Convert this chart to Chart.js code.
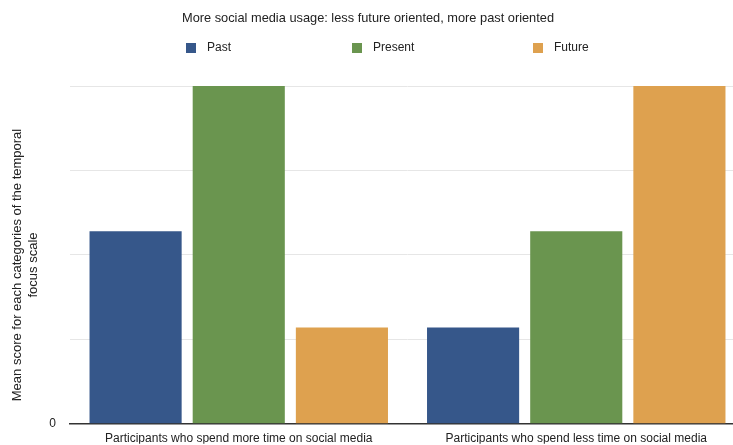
<!DOCTYPE html>
<html><head><meta charset="utf-8">
<script src="https://cdn.jsdelivr.net/npm/chart.js@4.4.0/dist/chart.umd.min.js"></script>
<style>html,body{margin:0;padding:0;background:#fff;overflow:hidden}#wrap{width:745px;height:445px;position:relative}</style>
</head><body><div id="wrap"><canvas id="c"></canvas></div>
<script>
const categories = ["Participants who spend more time on social media", "Participants who spend less time on social media"];
const seriesNames = ["Past", "Present", "Future"];
const pastValues = [2.28, 1.14];
const presentValues = [4, 2.28];
const futureValues = [1.14, 4];
const yTickLabels = {0: "0"};
const titleText = "More social media usage: less future oriented, more past oriented";
const yAxisTitle = ["Mean score for each categories of the temporal", "focus scale"];
const colors = ["#36578a", "#6a954f", "#dea14f"];

const FONT = '"Liberation Sans", Arial, sans-serif';
const headerPlugin = {
  id: 'header',
  afterDraw(chart) {
    const ctx = chart.ctx;
    ctx.save();
    ctx.textBaseline = 'middle';
    ctx.textAlign = 'center';
    ctx.fillStyle = '#222';
    ctx.font = '12.8px ' + FONT;
    ctx.fillText(titleText, 368, 18);
    ctx.textAlign = 'left';
    ctx.font = '12px ' + FONT;
    const starts = [186, 352, 533];
    chart.data.datasets.forEach((ds, i) => {
      ctx.fillStyle = ds.backgroundColor;
      ctx.fillRect(starts[i], 43, 10, 10);
      ctx.fillStyle = '#222';
      ctx.fillText(ds.label, starts[i] + 21, 48);
    });
    // y axis title
    ctx.translate(25, 265);
    ctx.rotate(-Math.PI / 2);
    ctx.textAlign = 'center';
    ctx.font = '13px ' + FONT;
    ctx.fillText(yAxisTitle[0], 0, -8);
    ctx.fillText(yAxisTitle[1], 0, 8);
    ctx.restore();
  }
};

const seriesValues = [pastValues, presentValues, futureValues];
new Chart(document.getElementById('c'), {
  type: 'bar',
  data: {
    labels: categories,
    datasets: seriesNames.map((n, i) => ({
      label: n, data: seriesValues[i], backgroundColor: colors[i],
      categoryPercentage: 0.917, barPercentage: 0.893
    }))
  },
  plugins: [headerPlugin],
  options: {
    responsive: true, maintainAspectRatio: false, animation: false,
    layout: {padding: {top: 86, right: 0, left: 0, bottom: 0}},
    plugins: {legend: {display: false}, title: {display: false}, tooltip: {enabled: false}},
    scales: {
      x: {
        grid: {display: false, drawTicks: false},
        border: {display: true, color: '#333', width: 1.5},
        ticks: {color: '#222', font: {size: 12, family: FONT}, padding: 8, maxRotation: 0},
        afterFit(s) { s.height = 20; }
      },
      y: {
        min: 0, max: 4,
        ticks: {stepSize: 1, callback: v => (yTickLabels[v] !== undefined ? yTickLabels[v] : ''), color: '#222', font: {size: 12, family: FONT}, padding: 14},
        grid: {color: '#e6e6e6', drawTicks: false},
        border: {display: false},
        title: {display: false},
        afterFit(s) { s.width = 70; }
      }
    }
  }
});
</script>
</body></html>
